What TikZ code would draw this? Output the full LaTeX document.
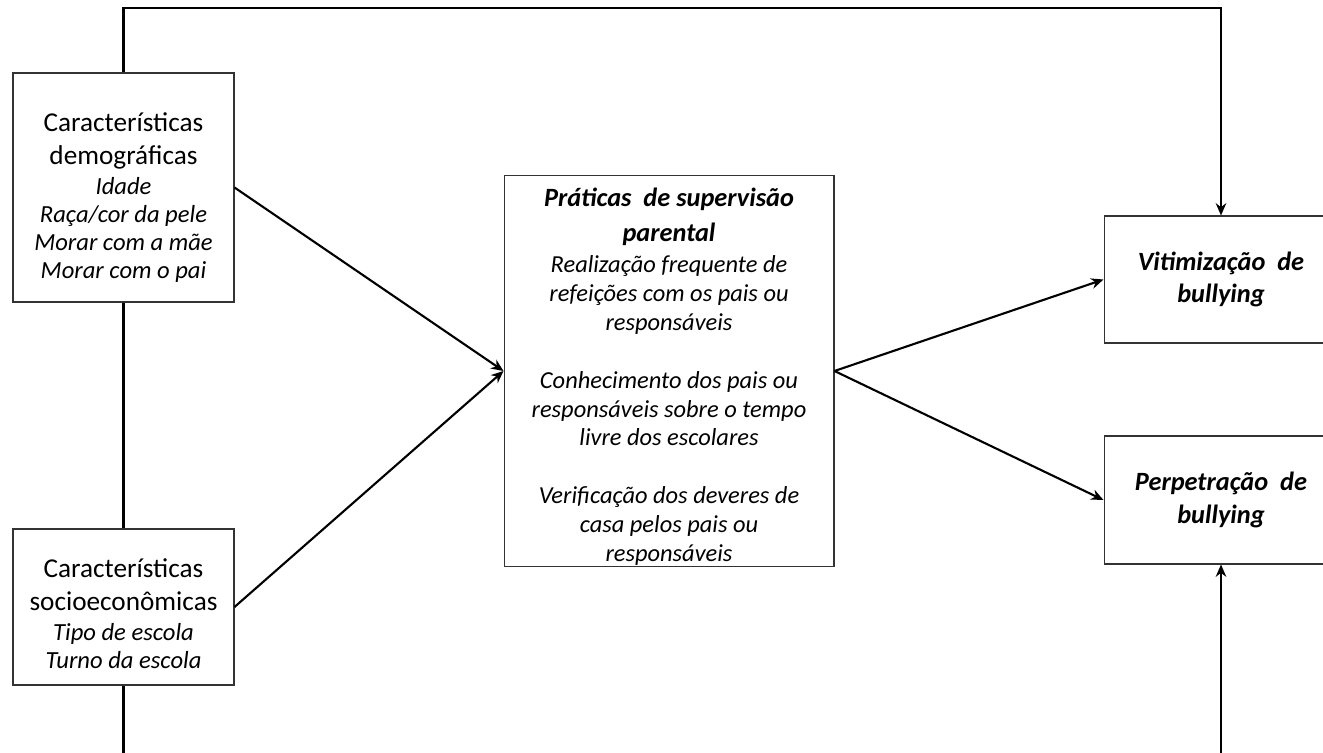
\documentclass[tikz,border=0pt]{standalone}
\usepackage{fontspec}
\setmainfont{Carlito}
\usetikzlibrary{positioning,arrows.meta}

\begin{document}
\begin{tikzpicture}[
    x=0.02cm, y=-0.02cm,
    boxnode/.style={rectangle, draw=black!80, semithick, align=center, inner sep=0pt},
    bigtext/.style={font=\fontsize{15.5}{18.5}\selectfont},
    flowline/.style={draw=black, very thick},
    flowarrow/.style={-{Stealth[length=7pt,width=6pt]}, draw=black, very thick}
    ]
        \useasboundingbox (0,0) rectangle (1323,753);
        \clip (0,0) rectangle (1323,753);

        %Nodes
        \node[boxnode, bigtext, minimum width=4.42cm, minimum height=4.58cm]
            (demo)      at (123.5,187.5)    {\rule{0pt}{22.5pt}Características\\demográficas\\[-1.5pt]
            {\fontsize{14}{16}\selectfont\itshape Idade}\\[-2.5pt]
            {\fontsize{14}{16}\selectfont\itshape Raça/cor da pele}\\[-2.5pt]
            {\fontsize{14}{16}\selectfont\itshape Morar com a mãe}\\[-2.5pt]
            {\fontsize{14}{16}\selectfont\itshape Morar com o pai}};
        \node[boxnode, bigtext, minimum width=4.42cm, minimum height=3.12cm]
            (socio)     at (123.5,607)      {\rule{0pt}{18.5pt}Características\\socioeconômicas\\[-1.5pt]
            {\fontsize{14}{16}\selectfont\itshape Tipo de escola}\\[-2.5pt]
            {\fontsize{14}{16}\selectfont\itshape Turno da escola}};
        \node[boxnode, font=\fontsize{13.9}{16.4}\selectfont\itshape, minimum width=6.6cm, minimum height=7.84cm]
            (central)   at (669,371)        {\rule{0pt}{17pt}{\fontsize{15}{18}\selectfont\bfseries Práticas\ \ de supervisão}\\[3.5pt]
            {\fontsize{15}{18}\selectfont\bfseries parental}\\[1.5pt]
            Realização frequente de\\refeições com os pais ou\\responsáveis\\[16.5pt]
            Conhecimento dos pais ou\\responsáveis sobre o tempo\\livre dos escolares\\[16.5pt]
            Verificação dos deveres de\\casa pelos pais ou\\responsáveis};
        \node[boxnode, font=\fontsize{15}{18.5}\selectfont\bfseries\itshape, minimum width=4.68cm, minimum height=2.54cm]
            (vit)       at (1221,279.5)     {Vitimização\ \ de\\bullying};
        \node[boxnode, font=\fontsize{15}{18.5}\selectfont\bfseries\itshape, minimum width=4.68cm, minimum height=2.56cm]
            (perp)      at (1221,500)       {Perpetração\ \ de\\bullying};
        \coordinate (topline) at (1221,8);
        \coordinate (botline) at (1221,762);

        %Lines
        \draw[flowarrow] (demo.east) -- (central.west);
        \draw[flowarrow] (socio.east) -- (central.west);
        \draw[flowarrow] (central.east) -- (vit.west);
        \draw[flowarrow] (central.east) -- (perp.west);
        \draw[flowline] (demo.south) -- (socio.north);
        \draw[flowarrow] (demo.north) |- (topline) -- (vit.north);
        \draw[flowarrow] (socio.south) |- (botline) -- (perp.south);
    \end{tikzpicture}
\end{document}
